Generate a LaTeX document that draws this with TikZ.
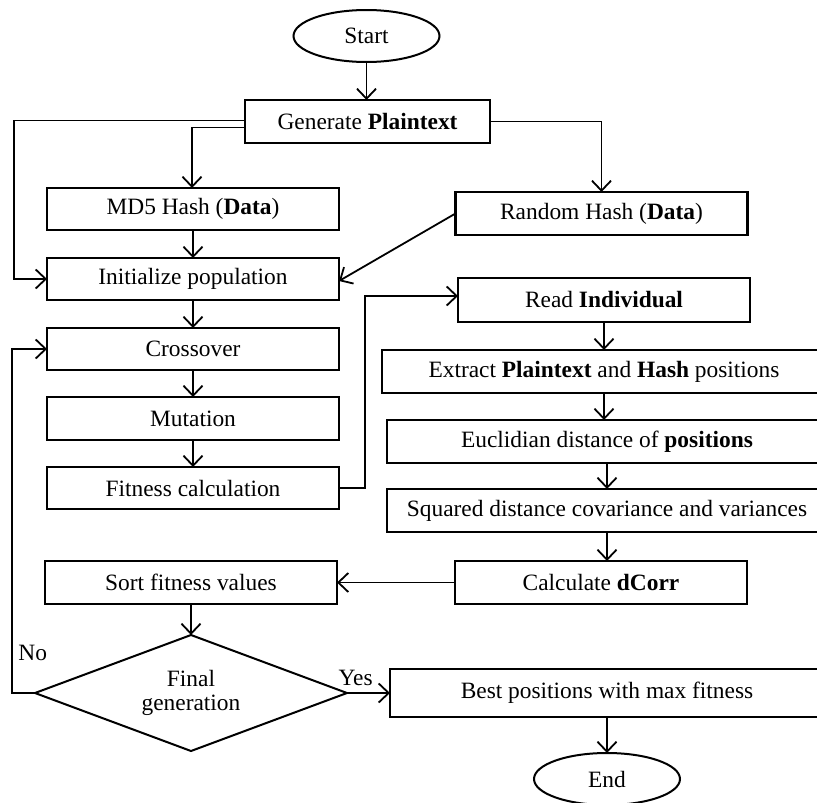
\documentclass[tikz,border=0pt]{standalone}
\usepackage{fontspec}
\setmainfont{Liberation Serif}
\usetikzlibrary{shapes.geometric, arrows.meta, positioning}

\begin{document}
\begin{tikzpicture}[
  x=1pt, y=-1pt,
  every node/.style={font=\fontsize{23.4}{24}\selectfont},
  box/.style={rectangle, draw, line width=2.3pt, outer sep=0pt, minimum height=42pt, minimum width=292pt, align=center, inner sep=2pt},
  wide/.style={box, minimum width=440pt, minimum height=43pt},
  term/.style={ellipse, draw, line width=2pt, outer sep=0pt, minimum width=146pt, minimum height=52pt},
  decision/.style={diamond, draw, line width=2pt, outer sep=0pt, minimum width=312pt, minimum height=116pt, aspect=2.7, align=center, inner sep=0pt},
  arr/.style={-{Straight Barb[length=10pt, width=19pt, line width=1.8pt]}, line width=1.8pt},
  node distance=27.5pt and 42pt
]
\useasboundingbox (0,0) rectangle (817,803);
\clip (0,0) rectangle (817,803);

\node[term] (start) at (366.5,36) {Start};
\node[box, minimum width=245pt, minimum height=43pt] (gen) at (367.5,121.5) {Generate \textbf{Plaintext}};
\node[box] (md5) at (193,209) {MD5 Hash (\textbf{Data})};
\node[box, minimum height=43pt] (rnd) at (601.5,213.5) {Random Hash (\textbf{Data})};

\node[box, below=28pt of md5] (init) {Initialize population};
\node[box, below=28pt of init] (cross) {Crossover};
\node[box, below=27pt of cross, minimum height=43pt] (mut) {Mutation};
\node[box, below=27pt of mut] (fit) {Fitness calculation};

\node[box, minimum height=44pt] (read) at (604,300) {Read \textbf{Individual}};
\node[wide, minimum width=444pt, below=28pt of read] (extract) {Extract \textbf{Plaintext} and \textbf{Hash} positions};
\node[wide, below=27pt of extract, xshift=3pt] (euclid) {Euclidian distance of \textbf{positions}};
\node[wide, below=26pt of euclid] (squared) {Squared distance covariance and variances};
\node[box, minimum height=43pt, below=29pt of squared, xshift=-6pt] (dcorr) {Calculate \textbf{dCorr}};

\node[box, minimum height=43pt] (sort) at (191,582.5) {Sort fitness values};
\node[decision, below=31pt of sort] (dec) {Final\\generation};
\node[box, minimum width=434pt, minimum height=48pt, right=43pt of dec] (best) {Best positions with max fitness};
\node[term, below=36pt of best] (end) {End};

\draw[arr] (start.south) -- (start.south |- gen.north);
\draw[arr] ([yshift=1pt]gen.west) -| ([xshift=-33pt]init.west) -- (init.west);
\draw[arr] ([yshift=-6pt]gen.west) -| ([xshift=-1pt]md5.north);
\draw[arr] (gen.east) -| (rnd.north);
\draw[arr] (md5) -- (init);
\draw[arr] (rnd.west) -- ([yshift=-2pt]init.east);
\draw[arr] (init) -- (cross);
\draw[arr] (cross) -- (mut);
\draw[arr] (mut) -- (fit);
\draw[arr] (fit.east) -- ++(26,0) |- ([yshift=4pt]read.west);
\draw[arr] (read.south) -- (read.south |- extract.north);
\draw[arr] (extract.south) -- (extract.south |- euclid.north);
\draw[arr] (euclid.south) -- (euclid.south |- squared.north);
\draw[arr] (squared.south) -- (squared.south |- dcorr.north);
\draw[arr] (dcorr.west) -- (dcorr.west -| sort.east);
\draw[arr] (sort) -- (dec);
\draw[arr] (dec.west) -- node[pos=0.1, above=28pt] {No} ++(-23,0) |- (cross.west);
\draw[arr] (dec.east) -- node[pos=0.2, above=3pt] {Yes} (dec.east -| best.west);
\draw[arr] (best.south) -- (best.south |- end.north);
\end{tikzpicture}
\end{document}
